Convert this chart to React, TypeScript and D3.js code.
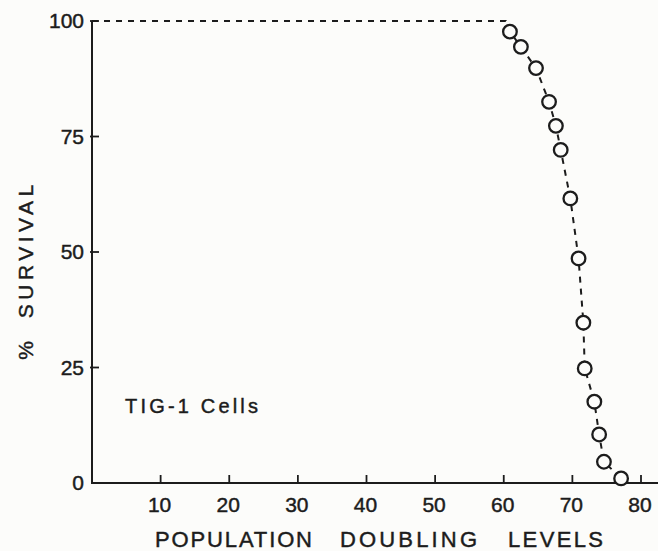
import React from "react";
import * as d3 from "d3";

// Survival of TIG-1 cell clones by population doubling level
const doublingLevels = [60.9, 62.5, 64.7, 66.6, 67.6, 68.3, 69.7, 70.9, 71.6, 71.8, 73.2, 73.9, 74.6, 77.1];
const survivalPct = [97.7, 94.4, 89.8, 82.5, 77.3, 72.1, 61.6, 48.6, 34.7, 24.8, 17.6, 10.5, 4.6, 1.0];

// Full-survival plateau preceding the measured points
const plateauX = [0, 60.3];
const plateauY = [100, 100];

const xTicks = [10, 20, 30, 40, 50, 60, 70, 80];
const yTicks = [0, 25, 50, 75, 100];

const xTitleWords = ["POPULATION", "DOUBLING", "LEVELS"];

const W = 658;
const H = 551;
const INK = "#1c1c1c";
const PAPER = "#fcfcfa";
const FONT = "'Liberation Sans', Arial, sans-serif";

export default function App() {
  const x = d3.scaleLinear().domain([0, 80]).range([92, 641]);
  const y = d3.scaleLinear().domain([0, 100]).range([483, 21]);

  const linePts: [number, number][] = [
    ...plateauX.map((v, i) => [v, plateauY[i]] as [number, number]),
    ...doublingLevels.map((v, i) => [v, survivalPct[i]] as [number, number]),
  ];
  const lineGen = d3
    .line<[number, number]>()
    .x((d) => x(d[0]))
    .y((d) => y(d[1]));

  const x0 = x(0);
  const y0 = y(0);

  // word layout of the x-axis title: left edge and width of each word
  const wordStarts = [155, 340, 508];
  const wordWidths = [157, 137, 95];

  const textProps = {
    fontFamily: FONT,
    fill: INK,
    stroke: INK,
    strokeWidth: 0.45,
  };

  return (
    <svg
      width={W}
      height={H}
      viewBox={`0 0 ${W} ${H}`}
      style={{ position: "absolute", left: 0, top: 0, background: PAPER }}
    >
      <rect x={0} y={0} width={W} height={H} fill={PAPER} />

      {/* axes */}
      <line x1={x0} y1={y(100)} x2={x0} y2={y0} stroke={INK} strokeWidth={2} />
      <line x1={x0 - 1} y1={y0} x2={W} y2={y0} stroke={INK} strokeWidth={2} />

      {/* y ticks and labels */}
      {yTicks.map((t) => (
        <g key={`y${t}`}>
          {t > 0 && (
            <line x1={x0 - 2} x2={x0 + 7} y1={y(t)} y2={y(t)} stroke={INK} strokeWidth={1.8} />
          )}
          <text x={84} y={y(t) + 7} textAnchor="end" fontSize={21} {...textProps}>
            {t}
          </text>
        </g>
      ))}

      {/* x ticks and labels */}
      {xTicks.map((t) => (
        <g key={`x${t}`}>
          <line x1={x(t)} x2={x(t)} y1={y0} y2={y0 - 8} stroke={INK} strokeWidth={1.8} />
          <text x={x(t) - 1} y={512} textAnchor="middle" fontSize={21} {...textProps}>
            {t}
          </text>
        </g>
      ))}

      {/* dashed survival curve */}
      <path
        d={lineGen(linePts) ?? ""}
        fill="none"
        stroke={INK}
        strokeWidth={2}
        strokeDasharray="6,6"
      />

      {/* data points */}
      {doublingLevels.map((v, i) => (
        <circle
          key={`p${i}`}
          cx={x(v)}
          cy={y(survivalPct[i])}
          r={6.8}
          fill={PAPER}
          stroke={INK}
          strokeWidth={2.3}
        />
      ))}

      {/* annotation */}
      <text
        x={125}
        y={413}
        fontSize={20}
        textLength={133}
        lengthAdjust="spacing"
        {...textProps}
      >
        TIG-1 Cells
      </text>

      {/* axis titles */}
      {xTitleWords.map((w, i) => (
        <text
          key={w}
          x={wordStarts[i]}
          y={547}
          fontSize={22}
          textLength={wordWidths[i]}
          lengthAdjust="spacing"
          {...textProps}
        >
          {w}
        </text>
      ))}
      <text
        transform={`translate(33,270) rotate(-90)`}
        textAnchor="middle"
        fontSize={21}
        letterSpacing={4.5}
        wordSpacing={8}
        {...textProps}
      >
        % SURVIVAL
      </text>
    </svg>
  );
}
